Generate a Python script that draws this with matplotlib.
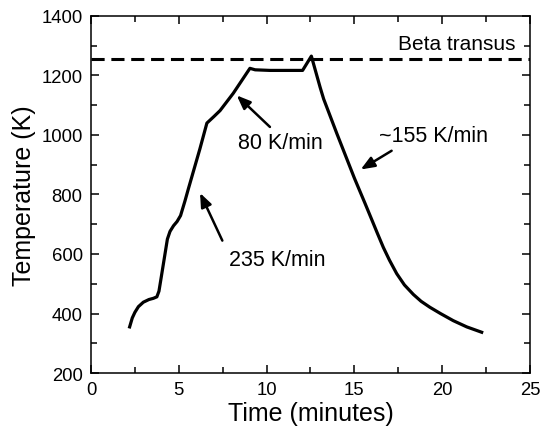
import matplotlib
matplotlib.use("Agg")
import matplotlib.pyplot as plt

# ---- data ----
time_min = [2.2, 2.35, 2.5, 2.7, 2.98, 3.3, 3.55, 3.75, 3.87, 4.0, 4.2, 4.35, 4.5,
            4.7, 4.9, 5.1, 5.35, 5.54, 5.75, 6.2, 6.6, 7.0, 7.35, 8.1, 9.05, 9.35,
            10.2, 11.0, 12.05, 12.55, 13.05, 13.25, 14.0, 15.0, 15.6, 16.0, 16.3,
            16.65, 17.0, 17.41, 17.85, 18.36, 18.8, 19.3, 19.9, 20.63, 21.4, 22.25]
temp_K = [355, 385, 404, 423, 438, 447, 451, 456, 475, 522, 595, 650, 676,
          695, 709, 729, 778, 818, 861, 953, 1040, 1062, 1082, 1140, 1224, 1219,
          1217, 1217, 1217, 1265, 1160, 1121, 1005, 855, 771, 714, 671,
          622, 579, 534, 496, 464, 441, 421, 400, 376, 355, 337]
beta_transus = 1255

x_ticks = [0, 5, 10, 15, 20, 25]
y_ticks = [200, 400, 600, 800, 1000, 1200, 1400]

# annotations: (text, text_xy, arrow_tail, arrow_head)
annotations = [
    ("80 K/min", (10.8, 976), (10.19, 1027), (8.3, 1133)),
    ("235 K/min", (10.6, 583), (7.48, 645), (6.21, 805)),
    ("~155 K/min", (19.5, 998), (17.12, 947), (15.36, 884)),
]

plt.rcParams["font.family"] = ["Liberation Sans", "DejaVu Sans"]

fig = plt.figure(figsize=(5.43, 4.35), dpi=100)
ax = fig.add_axes([0.1676, 0.1402, 0.976 - 0.1676, 0.961 - 0.1402])

ax.plot(time_min, temp_K, color="black", lw=2.3, solid_joinstyle="round")
ax.axhline(beta_transus, color="black", lw=2.2, dashes=(4.3, 2.2))

ax.text(24.2, 1309, "Beta transus", ha="right", va="center", fontsize=15)

for txt, txy, tail, head in annotations:
    ax.text(txy[0], txy[1], txt, ha="center", va="center", fontsize=15.5)
    ax.annotate("", xy=head, xytext=tail,
                arrowprops=dict(arrowstyle="-|>,head_length=0.55,head_width=0.22",
                                color="black", lw=1.8, mutation_scale=15,
                                shrinkA=0, shrinkB=0))

ax.set_xlim(0, 25)
ax.set_ylim(200, 1400)
ax.set_xticks(x_ticks)
ax.set_yticks(y_ticks)
ax.set_xticks([2.5, 7.5, 12.5, 17.5, 22.5], minor=True)
ax.set_yticks([300, 500, 700, 900, 1100, 1300], minor=True)
ax.tick_params(which="both", direction="in", top=True, right=True,
               width=1.1, labelsize=13.3, pad=6)
ax.tick_params(which="major", length=6)
ax.tick_params(which="minor", length=4)
for s in ax.spines.values():
    s.set_linewidth(1.1)

ax.set_xlabel("Time (minutes)", fontsize=18, labelpad=2)
ax.set_ylabel("Temperature (K)", fontsize=18, labelpad=4)

fig.savefig("out.png", dpi=100)
